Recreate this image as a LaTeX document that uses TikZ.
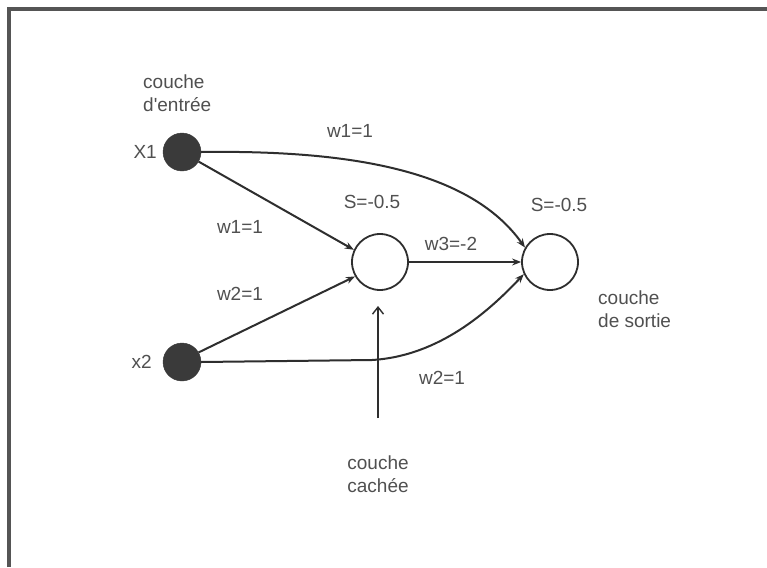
\documentclass[tikz,border=0pt]{standalone}
\usepackage{fontspec}
\setmainfont{Liberation Sans}
\usetikzlibrary{arrows.meta}
\definecolor{txt}{HTML}{505050}
\definecolor{ln}{HTML}{2E2E2E}
\definecolor{fillc}{HTML}{3A3A3A}
\definecolor{frame}{HTML}{555555}
\begin{document}
\begin{tikzpicture}[x=1pt,y=-1pt,
  lbl/.style={text=txt,font=\fontsize{19}{23}\selectfont,inner sep=0pt},
  lblL/.style={lbl,align=left,anchor=west},
  inputn/.style={circle,fill=fillc,draw=fillc,minimum size=38pt,inner sep=0pt},
  neuron/.style={circle,draw=ln,line width=1.8pt,fill=white,minimum size=56pt,inner sep=0pt},
  wire/.style={draw=ln,line width=2pt,-{Stealth[length=9pt,width=7pt]}},
  thin/.style={draw=ln,line width=1.4pt,-{Stealth[length=9pt,width=7pt]}},
  pointer/.style={draw=ln,line width=1.4pt,-{Straight Barb[length=7pt,width=11pt]}}]
\useasboundingbox (0,0) rectangle (767,567);
\fill[white] (0,0) rectangle (767,567);
% frame
\draw[frame,line width=3.5pt] (9,567) -- (9,9) -- (767,9);
% nodes
\node[inputn] (X1) at (182,152) {};
\node[inputn] (X2) at (182,362) {};
\node[neuron] (H) at (380,262) {};
\node[neuron] (O) at (550,262) {};
% labels
\node[lblL] (ein) at (143,93) {couche\\d\textquotesingle entrée};
\node[lbl,anchor=east] (lx1) at (157,152) {X1};
\node[lbl,anchor=east] (lx2) at (152,362) {x2};
\node[lbl] (w1a) at (350,131) {w1=1};
\node[lbl] (sh) at (372,202) {S=-0.5};
\node[lbl] (so) at (559,205) {S=-0.5};
\node[lbl] (w1b) at (240,227) {w1=1};
\node[lbl] (w2a) at (240,294) {w2=1};
\node[lbl] (w3) at (451,244) {w3=-2};
\node[lbl] (w2b) at (442,378) {w2=1};
\node[lblL] (sortie) at (598,309) {couche\\de sortie};
\node[lbl,align=center] (cachee) at (378,474) {couche\\cachée};
\coordinate (ptr) at (378,418);
\coordinate (bend) at (372,360);
% connectors
\draw[wire] (X1.east) .. controls (350,150) and (470,170) .. (O.150);
\draw[wire] (X1.-30) -- (H.155);
\draw[wire] (X2.30) -- (H.210);
\draw[wire] (X2.east) -- (bend) .. controls (440,356) and (490,310) .. (O.205);
\draw[thin] (H.east) -- (O.west);
\draw[pointer] (ptr) -- (378,306);
\end{tikzpicture}
\end{document}
